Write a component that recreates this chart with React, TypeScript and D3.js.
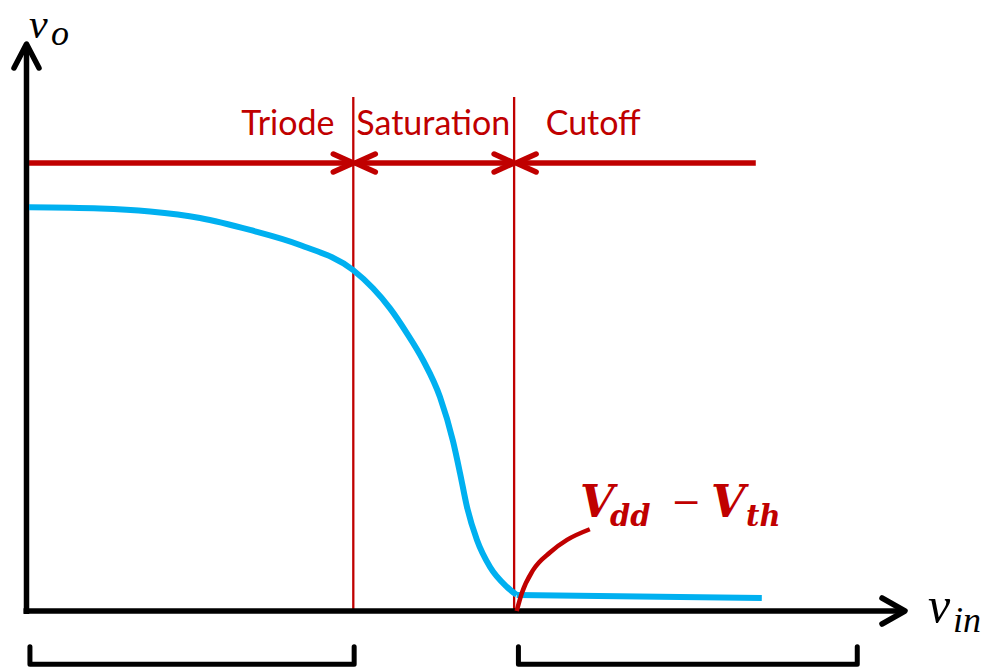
import React from "react";
import * as d3 from "d3";

const W = 991;
const H = 667;

// data space: vin 0..100, vo 0..100
const blueCurveX = [0.29, 8.55, 14.36, 20.17, 25.99, 31.8, 37.97, 40.29, 42.27, 44.24, 46.1, 48.08, 49.59, 50.41, 51.22, 52.38, 53.9, 55.87, 57.0];
const blueCurveY = [72.09, 71.88, 71.34, 70.18, 68.04, 65.36, 60.89, 57.63, 54.05, 49.59, 44.82, 38.21, 30.36, 24.64, 18.57, 12.68, 7.86, 4.29, 2.86];
const blueTailX = [57.0, 85.5];
const blueTailY = [2.86, 2.32];
const redCurveX = [57.0, 57.6, 58.9, 60.9, 62.85, 65.5];
const redCurveY = [0, 3.2, 7.3, 10.5, 12.7, 14.6];
const boundaries = [38.0, 56.7];
const regionNames = ["Triode", "Saturation", "Cutoff"];
const regionLabelX = [30.4, 47.3, 65.9];
const arrowRowY = 80;
const arrowStart = 0.3;
const arrowEnd = 84.8;
const boundaryTop = 91.8;
const bracketX1 = [0.4, 57.2];
const bracketX2 = [38.1, 96.6];
const bracketTop = -6.4;
const bracketBottom = -9.5;

const RED = "#C00000";
const BLUE = "#00B0F0";

export default function App() {
  const x = d3.scaleLinear().domain([0, 100]).range([26.5, 886.5]);
  const y = d3.scaleLinear().domain([0, 100]).range([611, 51]);

  const smooth = d3
    .line<[number, number]>()
    .x((d) => x(d[0]))
    .y((d) => y(d[1]))
    .curve(d3.curveMonotoneX);
  const straight = d3
    .line<[number, number]>()
    .x((d) => x(d[0]))
    .y((d) => y(d[1]));

  const bluePts = blueCurveX.map((v, i) => [v, blueCurveY[i]] as [number, number]);
  const tailPts = blueTailX.map((v, i) => [v, blueTailY[i]] as [number, number]);
  const redPts = redCurveX.map((v, i) => [v, redCurveY[i]] as [number, number]);

  const ay = y(arrowRowY);
  const b0 = x(boundaries[0]);
  const b1 = x(boundaries[1]);
  const head = (tx: number, dir: number) =>
    `M${tx - dir * 20},${ay - 9} L${tx},${ay} L${tx - dir * 20},${ay + 9}`;

  const x0 = x(0);
  const y0 = y(0);

  return (
    <svg width={W} height={H} style={{ position: "absolute", left: 0, top: 0, background: "#fff" }}>
      {/* boundaries */}
      {boundaries.map((b, i) => (
        <line key={i} x1={x(b)} x2={x(b)} y1={y(boundaryTop)} y2={y0} stroke={RED} strokeWidth={2.3} />
      ))}
      {/* region labels */}
      {regionNames.map((n, i) => (
        <text
          key={n}
          x={x(regionLabelX[i])}
          y={y(85)}
          textAnchor="middle"
          fontFamily="Lato, 'Open Sans', sans-serif"
          fontSize={34}
          fill={RED}
        >
          {n}
        </text>
      ))}
      {/* arrow row */}
      <g stroke={RED} strokeWidth={5.5} fill="none" strokeLinecap="round" strokeLinejoin="round">
        <line x1={x(arrowStart)} x2={b0 - 2} y1={ay} y2={ay} strokeLinecap="butt" />
        <path d={head(b0, 1)} />
        <line x1={b0 + 3} x2={b1 - 2} y1={ay} y2={ay} />
        <path d={head(b0 + 2, -1)} />
        <path d={head(b1, 1)} />
        <line x1={b1 + 3} x2={x(arrowEnd)} y1={ay} y2={ay} strokeLinecap="butt" />
        <path d={head(b1 + 2, -1)} />
      </g>
      {/* axes */}
      <g stroke="#000" strokeWidth={5.5} fill="none" strokeLinejoin="round" strokeLinecap="round">
        <line x1={x0} x2={x0} y1={y0 + 3} y2={46} strokeLinecap="butt" />
        <path d={`M${x0 - 12.5},68 L${x0},44 L${x0 + 12.5},68`} />
        <line x1={x0 - 3} x2={903} y1={y0} y2={y0} strokeLinecap="butt" />
        <path d={`M882,${y0 - 13} L905,${y0} L882,${y0 + 13}`} />
      </g>
      {/* blue curve */}
      <path d={smooth(bluePts) || ""} stroke={BLUE} strokeWidth={6} fill="none" strokeLinejoin="round" />
      <path d={straight(tailPts) || ""} stroke={BLUE} strokeWidth={6} fill="none" strokeLinejoin="round" />
      {/* red curve */}
      <path d={smooth(redPts) || ""} stroke={RED} strokeWidth={4.5} fill="none" />
      {/* V_dd - V_th */}
      <g fill={RED} fontFamily="'DejaVu Serif', serif" fontWeight="bold" fontStyle="italic">
        <text x={580} y={517} fontSize={44}>V</text>
        <text x={610} y={526} fontSize={29}>dd</text>
        <text x={671} y={514} fontSize={36} fontStyle="normal" fontWeight="normal">−</text>
        <text x={711} y={517} fontSize={44}>V</text>
        <text x={746} y={526} fontSize={29}>th</text>
      </g>
      {/* axis labels */}
      <g fill="#000" fontFamily="'Liberation Serif', serif" fontStyle="italic">
        <text x={29} y={37.5} fontSize={42}>v</text>
        <text x={51} y={45} fontSize={36}>o</text>
        <text x={928} y={622} fontSize={50}>v</text>
        <text x={953} y={632} fontSize={36}>in</text>
      </g>
      {/* brackets */}
      {bracketX1.map((b, i) => (
        <path
          key={i}
          d={`M${x(b)},${y(bracketTop)} V${y(bracketBottom)} H${x(bracketX2[i])} V${y(bracketTop)}`}
          stroke="#000"
          strokeWidth={5}
          fill="none"
          strokeLinejoin="round"
          strokeLinecap="round"
        />
      ))}
    </svg>
  );
}
